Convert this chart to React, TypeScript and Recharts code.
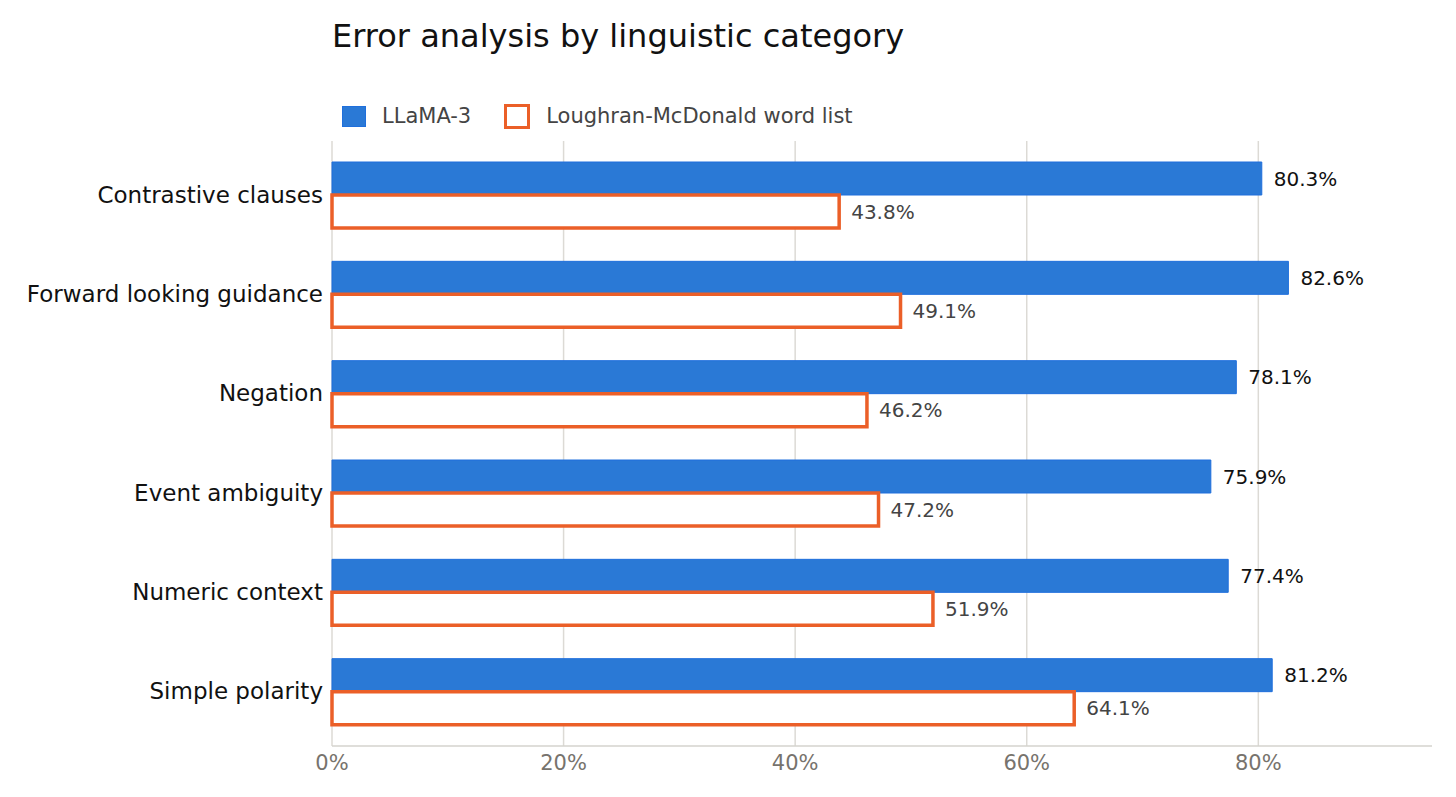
import React from 'react';
import { BarChart, Bar, XAxis, YAxis, CartesianGrid, LabelList } from 'recharts';

const categories = [
  'Contrastive clauses',
  'Forward looking guidance',
  'Negation',
  'Event ambiguity',
  'Numeric context',
  'Simple polarity',
];
const llamaValues = [80.3, 82.6, 78.1, 75.9, 77.4, 81.2];
const lmValues = [43.8, 49.1, 46.2, 47.2, 51.9, 64.1];
const xTicks = [0, 20, 40, 60, 80];
const seriesNames = ['LLaMA-3', 'Loughran-McDonald word list'];
const title = 'Error analysis by linguistic category';

const data = categories.map((name, i) => ({ name, llama: llamaValues[i], lm: lmValues[i] }));

const FONT = '"DejaVu Sans", sans-serif';
const BLUE = '#2a79d6';
const BLUE_STROKE = '#1f6fdc';
const ORANGE = '#eb5f28';
const X_MAX = 95;

const fmt = (v: any) => `${Number(v).toFixed(1)}%`;

export default function App() {
  return (
    <div style={{ position: 'absolute', left: 0, top: 0, width: 1456, height: 797, background: '#fff', fontFamily: FONT }}>
      <div style={{ position: 'absolute', left: 332, top: 17, fontSize: 32, lineHeight: '38px', color: '#111', whiteSpace: 'nowrap' }}>
        {title}
      </div>
      <div style={{ position: 'absolute', left: 342, top: 103, height: 26, display: 'flex', alignItems: 'center', fontSize: 21, color: '#444', whiteSpace: 'nowrap' }}>
        <div style={{ width: 24, height: 21, background: BLUE, border: `1px solid ${BLUE_STROKE}`, boxSizing: 'border-box' }} />
        <span style={{ marginLeft: 16 }}>{seriesNames[0]}</span>
        <div style={{ marginLeft: 33, width: 26, height: 25, border: `3.5px solid ${ORANGE}`, boxSizing: 'border-box', background: '#fff' }} />
        <span style={{ marginLeft: 16 }}>{seriesNames[1]}</span>
      </div>
      <BarChart
        width={1456}
        height={797}
        data={data}
        layout="vertical"
        margin={{ top: 141, right: 24, bottom: 11, left: 0 }}
        barGap={0}
        style={{ position: 'absolute', left: 0, top: 0 }}
      >
        <CartesianGrid
          horizontal={false}
          stroke="#dcdad5"
          strokeWidth={1.5}
          verticalCoordinatesGenerator={({ offset }: any) =>
            xTicks.map((t) => offset.left + (t / X_MAX) * offset.width)
          }
        />
        <XAxis
          type="number"
          domain={[0, X_MAX]}
          ticks={xTicks}
          tickFormatter={(v: number) => `${v}%`}
          axisLine={{ stroke: '#d5d3ce', strokeWidth: 1.5 }}
          tickLine={false}
          height={40}
          tick={{ fill: '#77736d', fontSize: 21, fontFamily: FONT }}
          tickMargin={3}
        />
        <YAxis
          type="category"
          dataKey="name"
          width={332}
          axisLine={false}
          tickLine={false}
          padding={{ top: 4, bottom: 5 }}
          tick={{ fill: '#111', fontSize: 23, fontFamily: FONT }}
          tickMargin={3}
        />
        <Bar dataKey="llama" fill={BLUE} stroke={BLUE_STROKE} strokeWidth={1} barSize={33} isAnimationActive={false}>
          <LabelList dataKey="llama" position="right" offset={12} formatter={fmt} fill="#111" fontSize={20} fontFamily={FONT} />
        </Bar>
        <Bar dataKey="lm" fill="#fff" stroke={ORANGE} strokeWidth={3.5} barSize={33} isAnimationActive={false}>
          <LabelList dataKey="lm" position="right" offset={12} formatter={fmt} fill="#444" fontSize={20} fontFamily={FONT} />
        </Bar>
      </BarChart>
    </div>
  );
}
